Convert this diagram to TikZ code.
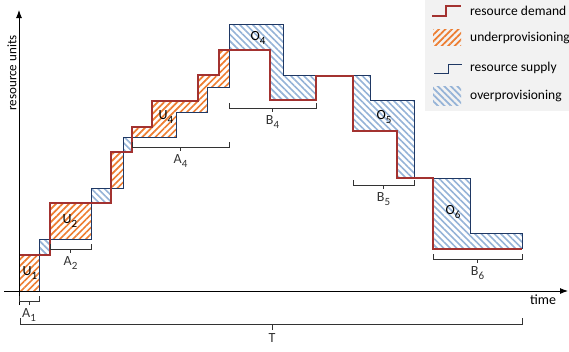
\documentclass[tikz,border=0pt]{standalone}
\usepackage{fontspec}
\setmainfont{Carlito}
\usetikzlibrary{arrows.meta}
\usetikzlibrary{patterns.meta}

\definecolor{demandred}{RGB}{163,50,48}
\definecolor{supplyblue}{RGB}{31,56,100}
\definecolor{underorange}{RGB}{237,125,49}
\definecolor{overblue}{RGB}{149,179,215}
\definecolor{legendgray}{RGB}{242,242,242}

\tikzset{
	demand/.style={ demandred, line width=2.8pt },
	supply/.style={ supplyblue, line width=0.9pt },
	under/.style={ pattern={ Lines[ angle=45, distance=4.6pt, line width=1.7pt ] }, pattern color=underorange },
	over/.style={ pattern={ Lines[ angle=-45, distance=4.6pt, line width=1.7pt ] }, pattern color=overblue },
	bracket/.style={ black!80, line width=0.7pt },
	axis/.style={ black, line width=0.9pt, -{Latex[ length=8pt, width=6pt ]} },
	legendtext/.style={ anchor=west, inner sep=2pt, font=\fontsize{13.5}{15}\selectfont },
}

\newcommand{\lbl}[2]{#1\raisebox{-0.5ex}{\fontsize{11}{11}\selectfont #2}}

\begin{document}
\begin{tikzpicture}[ x=1pt, y=-1pt, font=\fontsize{14}{16}\selectfont ]

	\useasboundingbox (0,0) rectangle (569,351);

	\path[ under ] (19,255) rectangle (39,291);
	\path[ over ] (39,239) rectangle (50,255);
	\path[ under ] (50,203) rectangle (91,239);
	\path[ over ] (91,188) rectangle (111,203);
	\path[ under ] (111,152) rectangle (123,188);
	\path[ over ] (123,137) rectangle (132,152);
	\path[ under ] (132,137) -- (132,127) -| (152,101) -| (198,75) -| (219,50) -- (229,50) -- (229,87) -| (207,112) -| (176,137) -- cycle;
	\path[ over ] (229,24) -| (283,75) -| (316,100) -| (270,50) -- (229,50) -- cycle;
	\path[ over ] (353,76) -| (370,100) -| (414,178) -- (397,178) |- (353,131) -- cycle;
	\path[ over ] (433,178) -| (470,233) -| (522,249) -- (433,249) -- cycle;

	\draw[ supply ] (39,291) -- (39,239) -| (91,188) -| (123,137) -| (176,112) -| (207,87) -| (229,24) -| (283,75) -| (370,100) -| (414,178) -| (470,233) -| (522,249);
	\draw[ demand ] (19,255) -| (50,203) -| (111,152) -| (132,127) -| (152,101) -| (198,75) -| (219,50) -| (270,100) -| (316,76) -| (353,131) -| (397,178) -| (433,249) -- (522,249);

	\draw[ axis ] (19,305) -- (19,10);
	\draw[ axis ] (4,291) -- (568,291);
	\node[ rotate=90, font=\fontsize{13}{15}\selectfont ] (ylabel) at (12,73) {resource units};
	\node (xlabel) at (543,300) {time};

	\node (u1) at (30,273) {\lbl{U}{1}};
	\node (u2) at (70,221) {\lbl{U}{2}};
	\node (u4) at (166,117) {\lbl{U}{4}};
	\node (o4) at (258,38) {\lbl{O}{4}};
	\node (o5) at (384,117) {\lbl{O}{5}};
	\node (o6) at (453,212) {\lbl{O}{6}};

	\foreach \xa/\xb/\yb/\id/\txt/\sb in {19/39/301/a1/A/1, 50/91/249/a2/A/2, 132/229/147/a4/A/4, 229/316/108/b4/B/4, 353/414/185/b5/B/5, 433/522/259/b6/B/6} {
		\draw[ bracket ] (\xa,\yb-5) -- (\xa,\yb) -- (\xb,\yb) -- (\xb,\yb-5);
		\draw[ bracket ] ({(\xa+\xb)/2},\yb) -- ++(0,4) node[ anchor=north, inner sep=3.5pt ] (\id) {\lbl{\txt}{\sb}};
	}
	\draw[ bracket ] (20,318) -- (20,324) -- (522,324) -- (522,318);
	\draw[ bracket ] (272,324) -- (272,330) node[ anchor=north, inner sep=3.5pt ] (t) {T};

	\fill[ legendgray ] (425,0) rectangle (569,111);
	\draw[ demand ] (432,16) -| (446,6) -- (461,6);
	\node[ legendtext ] (ldemand) at (468,11) {resource demand};
	\path[ under ] (433,29) rectangle (461,45);
	\node[ legendtext ] (lunder) at (468,38) {underprovisioning};
	\draw[ supply ] (434,73) -| (448,64) -- (462,64);
	\node[ legendtext ] (lsupply) at (468,68) {resource supply};
	\path[ over ] (433,86) rectangle (461,105);
	\node[ legendtext ] (lover) at (468,96) {overprovisioning};

\end{tikzpicture}
\end{document}
